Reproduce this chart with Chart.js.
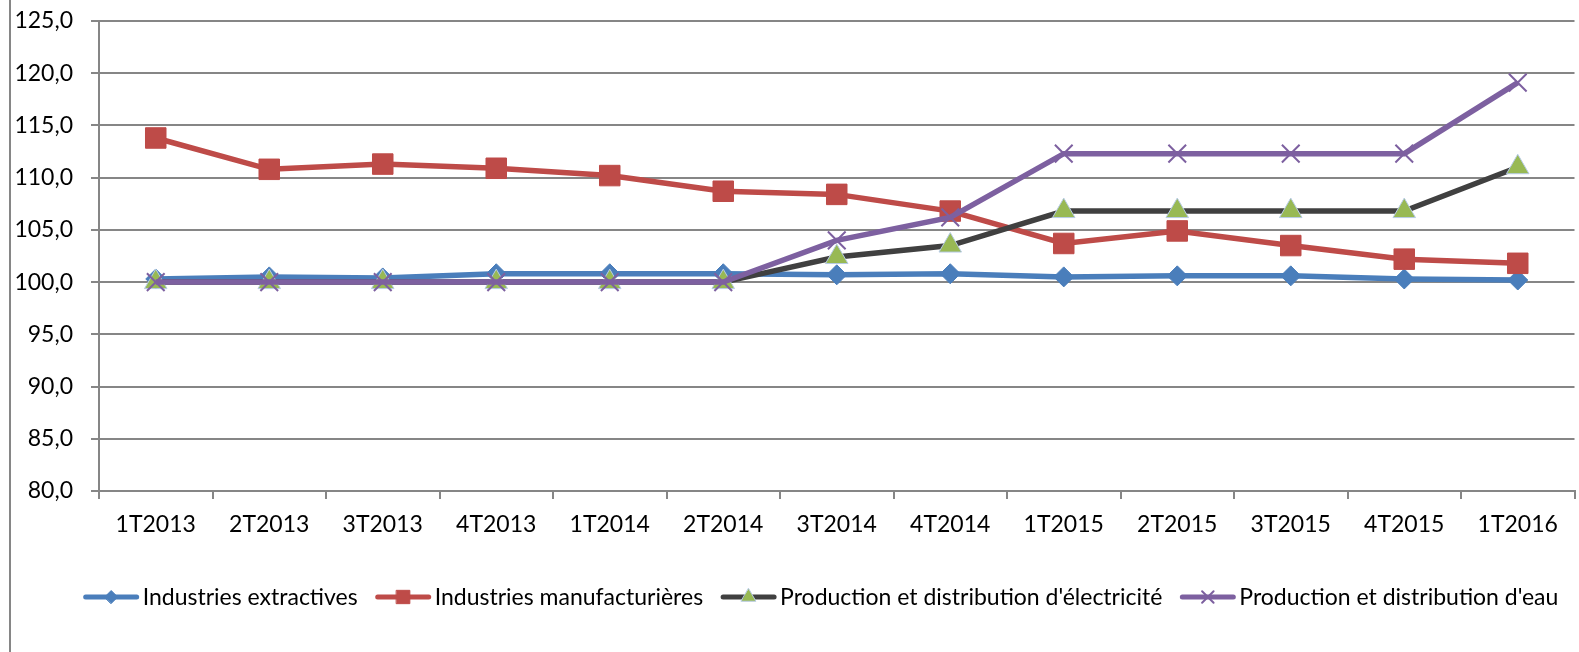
<!DOCTYPE html>
<html>
<head>
<meta charset="utf-8">
<script src="https://cdn.jsdelivr.net/npm/chart.js@4.4.1/dist/chart.umd.min.js"></script>
<style>
  html, body { margin: 0; padding: 0; background: #fff; overflow: hidden; }
  #cadre { width: 1579px; height: 652px; overflow: hidden; }
  #chart { display: block; }
</style>
</head>
<body>
<div id="cadre"><canvas id="chart" width="1590" height="652"></canvas></div>
<script>
const trimestres = ['1T2013', '2T2013', '3T2013', '4T2013', '1T2014', '2T2014', '3T2014', '4T2014', '1T2015', '2T2015', '3T2015', '4T2015', '1T2016'];
const extractives = [100.3, 100.5, 100.4, 100.8, 100.8, 100.8, 100.7, 100.8, 100.5, 100.6, 100.6, 100.3, 100.2];
const manufacturieres = [113.8, 110.8, 111.3, 110.9, 110.2, 108.7, 108.4, 106.8, 103.7, 104.9, 103.5, 102.2, 101.8];
const electricite = [100.0, 100.0, 100.0, 100.0, 100.0, 100.0, 102.4, 103.5, 106.8, 106.8, 106.8, 106.8, 111.0];
const eau = [100.0, 100.0, 100.0, 100.0, 100.0, 100.0, 104.0, 106.2, 112.3, 112.3, 112.3, 112.3, 119.1];
const nomsSeries = ['Industries extractives', 'Industries manufacturières', "Production et distribution d'électricité", "Production et distribution d'eau"];

const police = 'Lato, "Open Sans", sans-serif';
const taille = 23;
const gris = '#868686';

function serie(i, data, couleur, style, rayon, fond, bord) {
  return {
    label: nomsSeries[i],
    data: data,
    borderColor: couleur,
    borderWidth: 5.5,
    pointStyle: style,
    pointRadius: rayon,
    pointBackgroundColor: fond,
    pointBorderColor: bord,
    pointBorderWidth: style === 'crossRot' ? 2 : 1,
    tension: 0,
    order: 3 - i
  };
}

const datasets = [
  serie(0, extractives, '#4a7ebb', 'rectRot', 10, '#4a7ebb', '#4a7ebb'),
  serie(1, manufacturieres, '#be4b48', 'rect', 14.5, '#be4b48', '#be4b48'),
  serie(2, electricite, '#404040', 'triangle', 13, '#98b954', '#b7cbe6'),
  serie(3, eau, '#7d60a0', 'crossRot', 12.5, '#7d60a0', '#7d60a0')
];

// bordure gauche du cadre + légende dessinée à la main (trait + marqueur)
const cadreEtLegende = {
  id: 'cadreEtLegende',
  afterDraw(chart) {
    const ctx = chart.ctx;
    ctx.save();
    ctx.strokeStyle = gris;
    ctx.lineWidth = 2;
    ctx.beginPath();
    ctx.moveTo(10, 0);
    ctx.lineTo(10, chart.height);
    ctx.stroke();

    ctx.font = taille + 'px ' + police;
    ctx.textBaseline = 'middle';
    const longTrait = 55, ecartTexte = 4, ecartItem = 18;
    const largeurs = datasets.map(d => ctx.measureText(d.label).width);
    const total = largeurs.reduce((a, w) => a + longTrait + ecartTexte + w, 0) + ecartItem * (datasets.length - 1);
    let x = 821 - total / 2;
    const y = 597;
    datasets.forEach((d, i) => {
      ctx.strokeStyle = d.borderColor;
      ctx.lineWidth = 5;
      ctx.lineCap = 'round';
      ctx.beginPath();
      ctx.moveTo(x + 2, y);
      ctx.lineTo(x + longTrait - 2, y);
      ctx.stroke();
      ctx.fillStyle = d.pointBackgroundColor;
      ctx.strokeStyle = d.pointBorderColor;
      ctx.lineWidth = d.pointBorderWidth;
      Chart.helpers.drawPoint(ctx, {
        pointStyle: d.pointStyle,
        radius: d.pointRadius * 0.65,
        rotation: 0,
        borderWidth: d.pointBorderWidth
      }, x + longTrait / 2, y);
      ctx.fillStyle = '#000';
      ctx.fillText(d.label, x + longTrait + ecartTexte, y + 1);
      x += longTrait + ecartTexte + largeurs[i] + ecartItem;
    });
    ctx.restore();
  }
};

function sansMarge(scale) {
  scale.paddingTop = 0;
  scale.paddingBottom = 0;
  scale.paddingLeft = 0;
  scale.paddingRight = 0;
}

new Chart(document.getElementById('chart'), {
  type: 'line',
  data: { labels: trimestres, datasets: datasets },
  options: {
    responsive: false,
    animation: false,
    layout: { padding: { top: 21, left: 15, right: 0, bottom: 0 } },
    plugins: {
      legend: { display: false },
      tooltip: { enabled: false }
    },
    scales: {
      x: {
        offset: true,
        grid: { offset: true, drawOnChartArea: false, drawTicks: true, tickLength: 8, color: gris, lineWidth: 2 },
        border: { display: true, color: gris, width: 2 },
        ticks: { color: '#000', font: { family: police, size: taille }, padding: 12, maxRotation: 0, autoSkip: false },
        afterFit(scale) { scale.height = 161; sansMarge(scale); }
      },
      y: {
        min: 80,
        max: 125,
        grid: { color: gris, lineWidth: 2, drawTicks: true, tickLength: 8 },
        border: { display: true, color: gris, width: 2 },
        ticks: {
          stepSize: 5,
          color: '#000',
          font: { family: police, size: taille },
          padding: 18,
          callback: v => v.toFixed(1).replace('.', ',')
        },
        afterFit(scale) { scale.width = 84; sansMarge(scale); }
      }
    }
  },
  plugins: [cadreEtLegende]
});
</script>
</body>
</html>
